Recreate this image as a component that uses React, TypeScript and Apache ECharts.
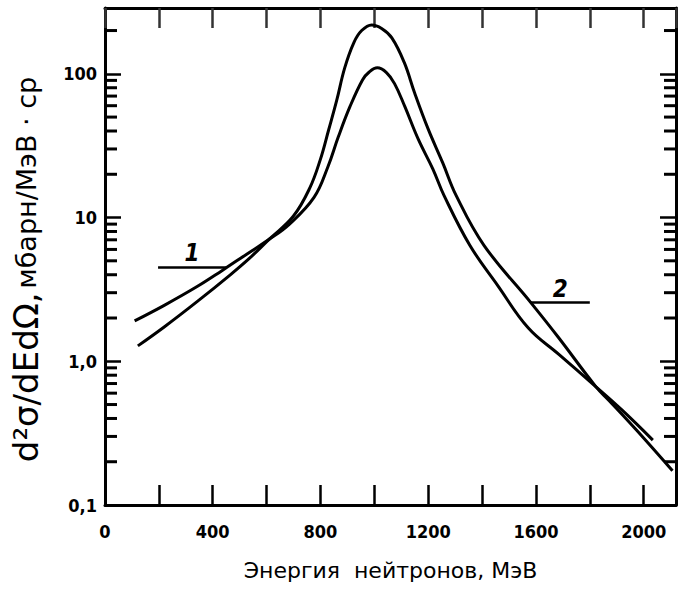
import { useEffect, useRef } from 'react';
import * as echarts from 'echarts';

// Curve 1 (lower peak, flatter at low energy)
const curve1Energy = [110, 220, 342, 434, 526, 611, 684, 776, 827, 866, 909, 956, 981, 1011, 1045, 1075, 1113, 1163, 1217, 1259, 1355, 1457, 1571, 1684, 1823, 1921, 2034];
const curve1Value = [1.91, 2.45, 3.31, 4.27, 5.56, 7.08, 8.96, 13.8, 22.4, 36.3, 58.8, 90.7, 103, 110, 102, 85.5, 59.3, 35.1, 21.8, 14.2, 6.39, 3.39, 1.71, 1.12, 0.664, 0.455, 0.283];

// Curve 2 (higher peak, steeper at low energy)
const curve2Energy = [122, 221, 343, 464, 538, 611, 699, 760, 800, 830, 860, 890, 924, 953, 990, 1027, 1065, 1111, 1150, 1200, 1254, 1304, 1407, 1581, 1683, 1823, 1872, 1974, 2107];
const curve2Value = [1.28, 1.74, 2.61, 3.98, 5.24, 7.1, 10.2, 16.0, 25.5, 40.5, 65, 110, 165, 200, 219, 207, 178, 120, 73.2, 41.2, 24.0, 14.2, 6.41, 2.56, 1.47, 0.664, 0.532, 0.331, 0.173];

// Axis definitions
const xMin = 0;
const xMax = 2120;
const xInterval = 200;
const xLabelValues = [0, 400, 800, 1200, 1600, 2000];
const yMin = 0.1;
const yMax = 287;
const yLabelValues = [0.1, 1, 10, 100];
const yLabelTexts = ['0,1', '1,0', '10', '100'];
const yMinorTicks = [0.2, 0.3, 0.4, 0.5, 0.6, 0.7, 0.8, 0.9, 2, 3, 4, 5, 6, 7, 8, 9, 20, 30, 40, 50, 60, 70, 80, 90, 200];

// Curve annotations
const note1 = { x1: 197, x2: 450, y: 4.5, text: '1' };
const note2 = { x1: 1581, x2: 1800, y: 2.56, text: '2' };

const xName = 'Энергия  нейтронов, МэВ';
const yNameMain = 'd²σ/dEdΩ,';
const yNameUnits = 'мбарн/МэВ · ср';

const FONT = "'DejaVu Sans Condensed', 'DejaVu Sans', sans-serif";
const WIDE = "'DejaVu Sans', sans-serif";

function zip(xs: number[], ys: number[]) {
  return xs.map((x, i) => [x, ys[i]]);
}

export default function App() {
  const ref = useRef<HTMLDivElement>(null);
  useEffect(() => {
    const chart = echarts.init(ref.current!, null, { renderer: 'svg' });
    const mkLine = () => ({ show: true, onZero: false, lineStyle: { color: '#000', width: 3 } });
    const mkTick = (len: number, color: string) => ({ show: true, inside: true, length: len, lineStyle: { color, width: 2.5 } });
    const markLineFor = (n: typeof note1) => ({
      silent: true,
      symbol: ['none', 'none'],
      lineStyle: { color: '#000', width: 2.5, type: 'solid' },
      label: {
        show: true,
        position: 'insideMiddleTop',
        formatter: n.text,
        color: '#000',
        fontSize: 24,
        fontStyle: 'italic',
        fontWeight: 'bold',
        fontFamily: FONT,
        distance: 2,
      },
      data: [[{ coord: [n.x1, n.y] }, { coord: [n.x2, n.y] }]],
    });
    chart.setOption({
      animation: false,
      backgroundColor: '#fff',
      grid: { left: 105, right: 8, top: 8, bottom: 85 },
      xAxis: [
        {
          type: 'value',
          position: 'bottom',
          min: xMin,
          max: xMax,
          interval: xInterval,
          axisLine: mkLine(),
          axisTick: mkTick(20, '#000'),
          splitLine: { show: false },
          axisLabel: {
            color: '#000',
            fontSize: 18,
            fontWeight: 'bold',
            fontFamily: FONT,
            margin: 17,
            formatter: (v: number) => (xLabelValues.includes(v) ? String(v) : ''),
          },
          name: xName,
          nameLocation: 'middle',
          nameGap: 54,
          nameTextStyle: { color: '#000', fontSize: 22, fontFamily: WIDE },
        },
        {
          type: 'value',
          position: 'top',
          min: xMin,
          max: xMax,
          interval: xInterval,
          axisLine: mkLine(),
          axisTick: mkTick(20, '#333'),
          splitLine: { show: false },
          axisLabel: { show: false },
        },
      ],
      yAxis: [
        {
          type: 'log',
          logBase: 10,
          position: 'left',
          min: yMin,
          max: yMax,
          axisLine: mkLine(),
          axisTick: mkTick(16, '#000'),
          splitLine: { show: false },
          axisLabel: {
            color: '#000',
            fontSize: 18,
            fontWeight: 'bold',
            fontFamily: FONT,
            margin: 8,
            formatter: (v: number) => {
              const i = yLabelValues.findIndex((t) => Math.abs(Math.log10(v) - Math.log10(t)) < 1e-6);
              return i >= 0 ? yLabelTexts[i] : '';
            },
          },
          name: `{a|${yNameMain}} {b|${yNameUnits}}`,
          nameLocation: 'middle',
          nameGap: 62,
          nameTextStyle: {
            color: '#000',
            fontFamily: WIDE,
            padding: [0, 26, 0, 0],
            rich: {
              a: { fontSize: 34, fontFamily: WIDE, color: '#000' },
              b: { fontSize: 27, fontFamily: WIDE, color: '#000' },
            },
          },
        },
        {
          type: 'log',
          logBase: 10,
          position: 'right',
          min: yMin,
          max: yMax,
          axisLine: mkLine(),
          axisTick: mkTick(16, '#010101'),
          splitLine: { show: false },
          axisLabel: { show: false },
        },
      ],
      series: [
        {
          name: '1',
          type: 'line',
          xAxisIndex: 0,
          yAxisIndex: 0,
          data: zip(curve1Energy, curve1Value),
          showSymbol: false,
          smooth: 0.4,
          lineStyle: { color: '#000', width: 3 },
          markLine: markLineFor(note1),
        },
        {
          name: '2',
          type: 'line',
          xAxisIndex: 0,
          yAxisIndex: 0,
          data: zip(curve2Energy, curve2Value),
          showSymbol: false,
          smooth: 0.4,
          lineStyle: { color: '#000', width: 3 },
          markLine: markLineFor(note2),
        },
        {
          type: 'custom',
          xAxisIndex: 0,
          yAxisIndex: 0,
          clip: false,
          data: yMinorTicks.map((v) => [xMin, v]),
          renderItem: (_params: any, api: any) => {
            const v = api.value(1);
            const pl = api.coord([xMin, v]);
            const pr = api.coord([xMax, v]);
            const style = { stroke: '#000', lineWidth: 3, fill: null };
            return {
              type: 'group',
              children: [
                { type: 'line', shape: { x1: pl[0], y1: pl[1], x2: pl[0] + 12, y2: pl[1] }, style },
                { type: 'line', shape: { x1: pr[0] - 12, y1: pr[1], x2: pr[0], y2: pr[1] }, style },
              ],
            };
          },
        },
      ],
    });
    return () => chart.dispose();
  }, []);
  return (
    <div
      ref={ref}
      style={{ position: 'fixed', left: 0, top: 0, width: 684, height: 590, background: '#fff' }}
    />
  );
}
